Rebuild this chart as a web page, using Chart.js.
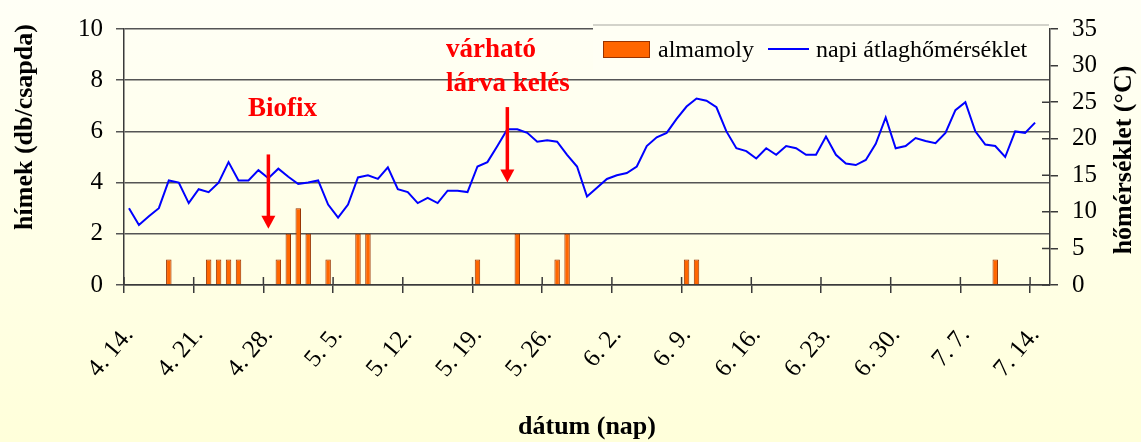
<!DOCTYPE html>
<html>
<head>
<meta charset="utf-8">
<script src="https://cdn.jsdelivr.net/npm/chart.js@4.4.1/dist/chart.umd.min.js"></script>
<style>
  html, body { margin: 0; padding: 0; }
  body { width: 1141px; height: 442px; background: linear-gradient(#FFFFF6, #FFFFDA); overflow: hidden; }
  #wrap { position: relative; width: 1141px; height: 442px; }
</style>
</head>
<body>
<div id="wrap"><canvas id="myChart"></canvas></div>
<script>
// napok 4.14 - 7.15
var monthSpans = [[4, 14, 30], [5, 1, 31], [6, 1, 30], [7, 1, 15]];
var days = [];
monthSpans.forEach(function (m) {
    for (var d = m[1]; d <= m[2]; d++) days.push(m[0] + '. ' + d + '.');
});

// almamoly hímek (db/csapda)
var almamoly = [
    0, 0, 0, 0, 1, 0, 0, 0, 1, 1, 1, 1, 0, 0, 0, 1, 2, 3, 2, 0,
    1, 0, 0, 2, 2, 0, 0, 0, 0, 0, 0, 0, 0, 0, 0, 1, 0, 0, 0, 2,
    0, 0, 0, 1, 2, 0, 0, 0, 0, 0, 0, 0, 0, 0, 0, 0, 1, 1, 0, 0,
    0, 0, 0, 0, 0, 0, 0, 0, 0, 0, 0, 0, 0, 0, 0, 0, 0, 0, 0, 0,
    0, 0, 0, 0, 0, 0, 0, 1, 0, 0, 0, 0, 0
];

// napi átlaghőmérséklet (°C)
var homerseklet = [
    10.5, 8.2, 9.4, 10.5, 14.3, 14.0, 11.2, 13.1, 12.7, 14.0,
    16.8, 14.3, 14.3, 15.7, 14.6, 15.9, 14.8, 13.8, 14.0, 14.3,
    11.0, 9.2, 11.0, 14.7, 15.0, 14.5, 16.1, 13.1, 12.7, 11.2,
    11.9, 11.2, 12.9, 12.9, 12.7, 16.2, 16.8, 19.0, 21.3, 21.3,
    20.8, 19.6, 19.8, 19.6, 17.8, 16.2, 12.1, 13.3, 14.5, 15.0,
    15.3, 16.2, 19.0, 20.2, 20.8, 22.7, 24.4, 25.5, 25.2, 24.3,
    21.0, 18.7, 18.3, 17.3, 18.7, 17.8, 19.0, 18.7, 17.8, 17.8,
    20.3, 17.8, 16.6, 16.4, 17.1, 19.3, 22.9, 18.7, 19.0, 20.1,
    19.7, 19.4, 20.8, 23.9, 25.0, 21.0, 19.2, 19.0, 17.5, 21.0,
    20.8, 22.2, null
];

var tickEvery = 7;

// nyilak: nap indexe, bal tengely értéke (kezdet, hegy)
var arrowDays = [14, 38];
var arrowFrom = [5.1, 6.95];
var arrowTo = [2.2, 4.0];
var arrowTexts = [['Biofix'], ['várható', 'lárva kelés']];
var textPos = [[248, [116]], [446, [57, 91]]];

var serif = "'Times New Roman', 'Liberation Serif', serif";
var axisColor = '#3a3a3a';

var extras = {
    id: 'extras',
    afterDraw: function (chart) {
        var ctx = chart.ctx;
        var x = chart.scales.x, y = chart.scales.y, y1 = chart.scales.y1;
        var area = chart.chartArea;
        ctx.save();

        // befelé álló osztásjelek
        ctx.strokeStyle = axisColor;
        ctx.lineWidth = 1.5;
        ctx.beginPath();
        for (var i = 0; i < days.length; i += tickEvery) {
            var px = x.getPixelForTick(i) - (x.getPixelForTick(1) - x.getPixelForTick(0)) / 2;
            ctx.moveTo(px, area.bottom);
            ctx.lineTo(px, area.bottom - 8);
        }
        for (var v = 0; v <= 35; v += 5) {
            var py = y1.getPixelForValue(v);
            ctx.moveTo(area.right - 8, py);
            ctx.lineTo(area.right, py);
        }
        ctx.stroke();

        // jelmagyarázat
        ctx.fillStyle = '#FFFFF4';
        ctx.strokeStyle = '#a8a8a0';
        ctx.lineWidth = 1.2;
        ctx.fillRect(593, 26, 456, 44);
        ctx.beginPath();
        ctx.moveTo(593, 25);
        ctx.lineTo(1049, 25);
        ctx.stroke();
        ctx.fillStyle = '#FF6600';
        ctx.strokeStyle = '#993300';
        ctx.lineWidth = 1;
        ctx.fillRect(603, 41, 46, 16);
        ctx.strokeRect(603.5, 41.5, 46, 16);
        ctx.strokeStyle = '#0000FF';
        ctx.lineWidth = 2;
        ctx.beginPath();
        ctx.moveTo(768, 49);
        ctx.lineTo(809, 49);
        ctx.stroke();
        ctx.fillStyle = '#000';
        ctx.font = '24px ' + serif;
        ctx.textAlign = 'left';
        ctx.textBaseline = 'alphabetic';
        ctx.fillText('almamoly', 658, 57);
        ctx.fillText('napi átlaghőmérséklet', 816, 57);

        // nyilak és feliratok
        ctx.strokeStyle = '#FF0000';
        ctx.fillStyle = '#FF0000';
        for (var a = 0; a < arrowDays.length; a++) {
            var ax = x.getPixelForValue(arrowDays[a]);
            var top = y.getPixelForValue(arrowFrom[a]);
            var tip = y.getPixelForValue(arrowTo[a]);
            ctx.lineWidth = 3.5;
            ctx.beginPath();
            ctx.moveTo(ax, top);
            ctx.lineTo(ax, tip - 12);
            ctx.stroke();
            ctx.beginPath();
            ctx.moveTo(ax - 7, tip - 13);
            ctx.lineTo(ax + 7, tip - 13);
            ctx.lineTo(ax, tip);
            ctx.closePath();
            ctx.fill();
            ctx.font = 'bold 27px ' + serif;
            for (var t = 0; t < arrowTexts[a].length; t++) {
                ctx.fillText(arrowTexts[a][t], textPos[a][0], textPos[a][1][t]);
            }
        }

        // tengelycímek
        ctx.fillStyle = '#000';
        ctx.font = 'bold 26px ' + serif;
        ctx.textAlign = 'center';
        ctx.textBaseline = 'middle';
        ctx.fillText('dátum (nap)', (area.left + area.right) / 2, 427);
        ctx.save();
        ctx.translate(25, 127);
        ctx.rotate(-Math.PI / 2);
        ctx.fillText('hímek (db/csapda)', 0, 0);
        ctx.restore();
        ctx.save();
        ctx.translate(1124, 160);
        ctx.rotate(-Math.PI / 2);
        ctx.fillText('hőmérséklet (°C)', 0, 0);
        ctx.restore();
        ctx.restore();
    }
};

var ctx = document.getElementById('myChart').getContext('2d');

var data = {
    labels: days,
    datasets: [{
        type: 'line',
        label: 'napi átlaghőmérséklet',
        data: homerseklet,
        yAxisID: 'y1',
        borderColor: '#0000FF',
        borderWidth: 2,
        pointRadius: 0,
        tension: 0,
        fill: false,
        order: 0
    }, {
        type: 'bar',
        label: 'almamoly',
        data: almamoly,
        yAxisID: 'y',
        backgroundColor: '#FF6600',
        borderColor: '#993300',
        borderWidth: 1,
        categoryPercentage: 1,
        barPercentage: 0.55,
        order: 1
    }]
};

var options = {
    responsive: true,
    maintainAspectRatio: false,
    animation: false,
    layout: { padding: { top: 25, left: 0, right: 0, bottom: 0 } },
    plugins: {
        legend: { display: false },
        tooltip: { enabled: false }
    },
    scales: {
        x: {
            offset: true,
            afterFit: function (s) { s.height = 157; },
            grid: {
                offset: true,
                drawOnChartArea: false,
                tickLength: 8,
                lineWidth: 1.5,
                color: function (c) { return c.index % tickEvery === 0 ? axisColor : 'transparent'; }
            },
            border: { color: axisColor, width: 1.5 },
            ticks: {
                autoSkip: false,
                minRotation: 50,
                maxRotation: 50,
                padding: 28,
                color: '#000',
                font: { family: serif, size: 25 },
                callback: function (v, i) { return i % tickEvery === 0 ? days[i] : ''; }
            }
        },
        y: {
            position: 'left',
            min: 0,
            max: 10,
            afterFit: function (s) { s.width = 124; },
            grid: { color: '#555', lineWidth: 1.5, tickLength: 8 },
            border: { color: axisColor, width: 1.5 },
            ticks: { stepSize: 2, padding: 13, color: '#000', font: { family: serif, size: 25 } }
        },
        y1: {
            position: 'right',
            min: 0,
            max: 35,
            afterFit: function (s) { s.width = 91; },
            grid: { drawOnChartArea: false, color: axisColor, lineWidth: 1.5, tickLength: 8 },
            border: { color: axisColor, width: 1.5 },
            ticks: { stepSize: 5, padding: 14, color: '#000', font: { family: serif, size: 25 } }
        }
    }
};

var myChart = new Chart(ctx, {
    type: 'bar',
    data: data,
    options: options,
    plugins: [extras]
});
</script>
</body>
</html>
